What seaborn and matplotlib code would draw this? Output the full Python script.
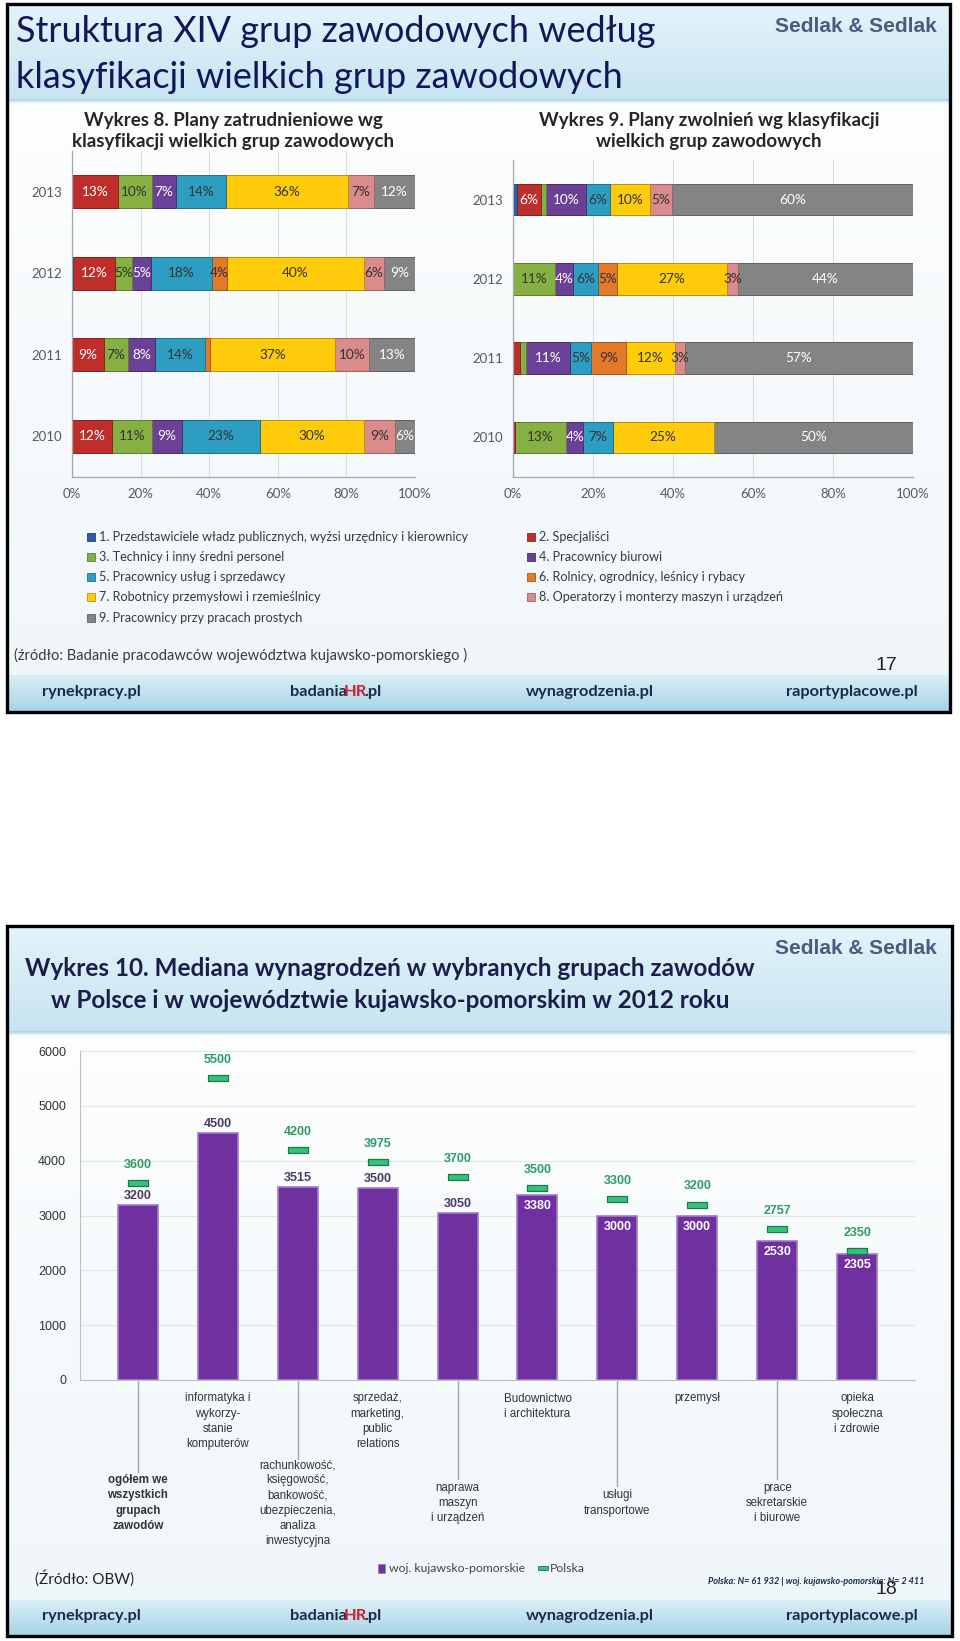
import matplotlib
matplotlib.use("Agg")
import matplotlib.pyplot as plt
import matplotlib.transforms as mtransforms
import numpy as np
import pandas as pd
import seaborn as sns
from matplotlib import font_manager
from matplotlib.colors import to_rgb
from matplotlib.patches import Rectangle

sns.set_style("white")
plt.rcParams["font.family"] = ["Liberation Sans", "DejaVu Sans"]

_installed = {f.name for f in font_manager.fontManager.ttflist}
HUMAN = "Lato" if "Lato" in _installed else "DejaVu Sans"
ARIAL = "Liberation Sans"

W, H = 960, 1641

# --- Wykres 8 / 9: structure of hiring and layoff plans (percent per group) ---
YEARS = ["2013", "2012", "2011", "2010"]
GROUPS = [
    "1. Przedstawiciele władz publicznych, wyżsi urzędnicy i kierownicy",
    "2. Specjaliści",
    "3. Technicy i inny średni personel",
    "4. Pracownicy biurowi",
    "5. Pracownicy usług i sprzedawcy",
    "6. Rolnicy, ogrodnicy, leśnicy i rybacy",
    "7. Robotnicy przemysłowi i rzemieślnicy",
    "8. Operatorzy i monterzy maszyn i urządzeń",
    "9. Pracownicy przy pracach prostych",
]
HIRE_2013 = [0.0, 13.4, 9.8, 7.2, 14.4, 0.0, 35.8, 7.4, 12.0]
HIRE_2012 = [0.4, 12.0, 5.2, 5.4, 17.8, 4.4, 39.8, 6.1, 8.9]
HIRE_2011 = [0.0, 9.4, 6.8, 8.1, 14.4, 1.5, 36.6, 9.8, 13.4]
HIRE_2010 = [0.0, 11.8, 11.4, 8.8, 22.9, 0.0, 30.3, 9.0, 5.8]

FIRE_2013 = [1.0, 6.0, 1.3, 10.0, 6.0, 0.0, 10.0, 5.4, 60.3]
FIRE_2012 = [0.0, 0.0, 10.6, 4.4, 6.3, 4.8, 27.4, 2.8, 43.7]
FIRE_2011 = [0.0, 1.8, 1.5, 11.0, 5.2, 8.8, 12.1, 2.6, 57.0]
FIRE_2010 = [0.0, 0.4, 12.9, 4.3, 7.3, 0.0, 25.3, 0.0, 49.8]

# --- Wykres 10: median salary 2012 ---
CATEGORIES = [
    "ogółem we\nwszystkich\ngrupach\nzawodów",
    "informatyka i\nwykorzy-\nstanie\nkomputerów",
    "rachunkowość,\nksięgowość,\nbankowość,\nubezpieczenia,\nanaliza\ninwestycyjna",
    "sprzedaż,\nmarketing,\npublic\nrelations",
    "naprawa\nmaszyn\ni urządzeń",
    "Budownictwo\ni architektura",
    "usługi\ntransportowe",
    "przemysł",
    "prace\nsekretarskie\ni biurowe",
    "opieka\nspołeczna\ni zdrowie",
]
WOJ = [3200, 4500, 3515, 3500, 3050, 3380, 3000, 3000, 2530, 2305]
POLSKA = [3600, 5500, 4200, 3975, 3700, 3500, 3300, 3200, 2757, 2350]

GROUP_COLORS = ["#2B5DAB", "#BE2F2C", "#86B042", "#6B4197", "#2E9DC2",
                "#E5792A", "#FFCB0A", "#D98C8B", "#848484"]
GROUP_TEXT = ["white", "white", "#333333", "white", "#333333",
              "#333333", "#333333", "#333333", "white"]
EDGE_COLORS = [tuple(np.array(to_rgb(c)) * 0.72) for c in GROUP_COLORS]
PURPLE = "#7030A0"
GREEN = "#35C27D"
NAVY = "#14165A"

fig = plt.figure(figsize=(W / 100, H / 100), dpi=100)
bg = fig.add_axes([0, 0, 1, 1])
bg.set_xlim(0, W)
bg.set_ylim(H, 0)
bg.set_autoscale_on(False)
bg.axis("off")


def px_axes(x0, y0, x1, y1):
    ax = fig.add_axes([x0 / W, 1 - y1 / H, (x1 - x0) / W, (y1 - y0) / H])
    ax.set_facecolor("none")
    return ax


def vgrad(x0, y0, x1, y1, c_top, c_bot, z=0):
    top = np.array(to_rgb(c_top))
    bot = np.array(to_rgb(c_bot))
    t = np.linspace(0, 1, 64)[:, None, None]
    img = top * (1 - t) + bot * t
    bg.imshow(img, extent=(x0, x1, y1, y0), aspect="auto",
              interpolation="bilinear", zorder=z)


def slide_frame(x0, y0, x1, y1, header_bottom, footer_top):
    vgrad(x0, y0, x1, y1, "#FFFFFF", "#EFF6FA")
    vgrad(x0, y0, x1, header_bottom, "#E4F3FA", "#C7E5F1", z=1)
    vgrad(x0, header_bottom, x1, header_bottom + 5, "#A9D1E2", "#FFFFFF", z=1)
    vgrad(x0, footer_top, x1, y1, "#D9EFF7", "#A6D3E5", z=1)
    bg.add_patch(Rectangle((x0, y0), x1 - x0, y1 - y0, fill=False,
                           edgecolor="black", lw=2.4, zorder=5))


def footer(y):
    kw = dict(fontsize=11.8, fontweight="bold", color="#1B2A4A", family=HUMAN,
              va="center", zorder=6)
    bg.text(42, y, "rynekpracy.pl", ha="left", **kw)
    t1 = bg.text(290, y, "badania", ha="left", **kw)
    t2 = bg.annotate("HR", xy=(1, 0), xycoords=t1, xytext=(-2, 0),
                     textcoords="offset points", ha="left", va="bottom",
                     fontsize=11.8, fontweight="bold", color="#D0202A",
                     family=HUMAN, zorder=6)
    bg.annotate(".pl", xy=(1, 0), xycoords=t2, xytext=(-2, 0),
                textcoords="offset points", ha="left", va="bottom",
                fontsize=11.8, fontweight="bold", color="#1B2A4A",
                family=HUMAN, zorder=6)
    bg.text(590, y, "wynagrodzenia.pl", ha="center", **kw)
    bg.text(918, y, "raportyplacowe.pl", ha="right", **kw)


def sedlak(x_right, y):
    bg.text(x_right, y, "Sedlak & Sedlak", ha="right", va="center",
            fontsize=15, fontweight="bold", color="#4A5B7E", family=ARIAL,
            zorder=6)


def stacked_panel(ax, rows):
    vals = np.array(rows, dtype=float)
    cum = vals.cumsum(axis=1)
    # overlay cumulative bars, longest first
    for k in range(len(GROUPS) - 1, -1, -1):
        sns.barplot(x=cum[:, k], y=YEARS, order=YEARS, orient="h",
                    color=GROUP_COLORS[k], saturation=1, width=0.4,
                    edgecolor=EDGE_COLORS[k], linewidth=0.7, errorbar=None,
                    ax=ax)
    for i in range(len(YEARS)):
        for k in range(len(GROUPS)):
            v = vals[i, k]
            if v >= 2.5:
                ax.text(cum[i, k] - v / 2, i, f"{v:.0f}%", ha="center",
                        va="center", fontsize=9.8, color=GROUP_TEXT[k],
                        family=HUMAN, zorder=5)
    ax.set_xlim(0, 100)
    ax.set_ylim(len(YEARS) - 0.5, -0.5)
    ax.set_xticks(np.arange(0, 101, 20))
    ax.set_xticklabels([f"{t}%" for t in range(0, 101, 20)])
    ax.set_yticks(np.arange(-0.5, len(YEARS), 1.0), minor=True)
    ax.tick_params(axis="y", which="major", length=0, pad=7,
                   labelsize=9.5, labelcolor="#595959")
    ax.tick_params(axis="y", which="minor", length=5, color="#A6A6A6",
                   direction="out")
    ax.tick_params(axis="x", length=4, color="#A6A6A6", pad=4,
                   labelsize=9.5, labelcolor="#595959")
    for lab in ax.get_xticklabels() + ax.get_yticklabels():
        lab.set_family(HUMAN)
    ax.grid(axis="x", color="#DCDCDC", lw=0.8)
    ax.set_axisbelow(True)
    ax.set_xlabel("")
    ax.set_ylabel("")
    sns.despine(ax=ax)
    for side in ("left", "bottom"):
        ax.spines[side].set_color("#A6A6A6")
        ax.spines[side].set_linewidth(0.9)


# ================= slide 17 =================
slide_frame(7, 4, 950, 712, 99, 675)
bg.text(16, 31, "Struktura XIV grup zawodowych według", fontsize=25.9,
        color=NAVY, family=HUMAN, va="center", zorder=6)
bg.text(16, 78, "klasyfikacji wielkich grup zawodowych", fontsize=25.9,
        color=NAVY, family=HUMAN, va="center", zorder=6)
sedlak(937, 26)

bg.text(233, 131, "Wykres 8. Plany zatrudnieniowe wg\nklasyfikacji wielkich grup zawodowych",
        ha="center", va="center", fontsize=13.5, fontweight="bold",
        family=HUMAN, linespacing=1.3, zorder=6)
bg.text(709, 131, "Wykres 9. Plany zwolnień wg klasyfikacji\nwielkich grup zawodowych",
        ha="center", va="center", fontsize=13.5, fontweight="bold",
        family=HUMAN, linespacing=1.3, zorder=6)

ax8 = px_axes(72, 151, 415, 477)
stacked_panel(ax8, [HIRE_2013, HIRE_2012, HIRE_2011, HIRE_2010])
ax9 = px_axes(513, 160, 913, 477)
stacked_panel(ax9, [FIRE_2013, FIRE_2012, FIRE_2011, FIRE_2010])

# legend, two columns
legend_rows = [537, 557, 577, 597, 618]
left_items = [0, 2, 4, 6, 8]
right_items = [1, 3, 5, 7]
for col_x, items in ((91, left_items), (531, right_items)):
    for row_y, k in zip(legend_rows, items):
        bg.add_patch(Rectangle((col_x - 4, row_y - 4), 8, 8,
                               facecolor=GROUP_COLORS[k],
                               edgecolor=EDGE_COLORS[k], lw=0.6, zorder=6))
        bg.text(col_x + 8, row_y, GROUPS[k], ha="left", va="center",
                fontsize=9.1, color="#3A3A3A", family=HUMAN, zorder=6)

bg.text(14, 655, "(źródło: Badanie pracodawców województwa kujawsko-pomorskiego )",
        ha="left", va="center", fontsize=10.5, color="#3A3A3A", family=HUMAN,
        zorder=6)
bg.text(886, 666, "17", ha="center", va="center", fontsize=14,
        color="#222222", family=ARIAL, zorder=6)
footer(692)

# ================= slide 18 =================
slide_frame(7, 926, 952, 1636, 1031, 1600)
bg.text(390, 968, "Wykres 10. Mediana wynagrodzeń w wybranych grupach zawodów",
        ha="center", va="center", fontsize=17.5, fontweight="bold",
        color="#1C1D4A", family=HUMAN, zorder=6)
bg.text(390, 1001, "w Polsce i w województwie kujawsko-pomorskim w 2012 roku",
        ha="center", va="center", fontsize=17.5, fontweight="bold",
        color="#1C1D4A", family=HUMAN, zorder=6)
sedlak(937, 948)

ax10 = px_axes(80, 1051, 915, 1380)
df10 = pd.DataFrame({"kategoria": CATEGORIES, "woj": WOJ, "polska": POLSKA})
sns.barplot(data=df10, x="kategoria", y="woj", color=PURPLE, saturation=1,
            width=0.5, edgecolor="#A07CC8", linewidth=1.2, errorbar=None,
            ax=ax10)
dash = [(-4, -1), (4, -1), (4, 1), (-4, 1), (-4, -1)]
sns.scatterplot(x=np.arange(len(CATEGORIES)), y=df10["polska"], marker=dash,
                s=210, color=GREEN, edgecolor="#1D7A47", linewidth=0.9,
                zorder=4, ax=ax10, legend=False)

for i, (w, p) in enumerate(zip(WOJ, POLSKA)):
    ax10.annotate(f"{p}", xy=(i, p), xytext=(0, 13), textcoords="offset points",
                  ha="center", va="center", fontsize=9, fontweight="bold",
                  color="#2E9A68", family=ARIAL)
    if i < 5:
        ax10.annotate(f"{w}", xy=(i, w), xytext=(0, 2), textcoords="offset points",
                      ha="center", va="bottom", fontsize=9, fontweight="bold",
                      color="#4A3B60", family=ARIAL)
    else:
        ax10.annotate(f"{w}", xy=(i, w), xytext=(0, -8), textcoords="offset points",
                      ha="center", va="center", fontsize=9, fontweight="bold",
                      color="white", family=ARIAL)

ax10.set_ylim(0, 6000)
ax10.set_yticks(np.arange(0, 6001, 1000))
ax10.tick_params(axis="y", length=4, color="#BFBFBF", pad=6, labelsize=9,
                 labelcolor="#333333")
ax10.tick_params(axis="x", length=0, labelbottom=False)
ax10.grid(axis="y", color="#E4E4E4", lw=0.8)
ax10.set_axisbelow(True)
ax10.set_xlabel("")
ax10.set_ylabel("")
sns.despine(ax=ax10)
for side in ("left", "bottom"):
    ax10.spines[side].set_color("#BFBFBF")

# category labels, alternating high / low with leader lines
ax_h = 1380 - 1051
line_px = 13.8
trans = mtransforms.blended_transform_factory(ax10.transData, ax10.transAxes)
for i, lab in enumerate(CATEGORIES):
    weight = "bold" if i == 0 else "normal"
    if i % 2 == 1:
        ax10.annotate(lab, xy=(i, 0), xycoords=("data", "axes fraction"),
                      xytext=(0, -9), textcoords="offset points", ha="center",
                      va="top", fontsize=8.3, linespacing=1.35,
                      color="#333333", fontweight=weight, family=ARIAL)
    else:
        n_lines = lab.count("\n") + 1
        center = 123
        ax10.annotate(lab, xy=(i, 0), xycoords=("data", "axes fraction"),
                      xytext=(0, -center * 0.72), textcoords="offset points",
                      ha="center", va="center", fontsize=8.3, linespacing=1.35,
                      color="#333333", fontweight=weight, family=ARIAL)
        end = center - n_lines * line_px / 2 - 3
        ax10.plot([i, i], [0, -end / ax_h], transform=trans, color="#A6A6A6",
                  lw=1.0, clip_on=False)

# legend for Wykres 10
bg.add_patch(Rectangle((378, 1564), 7, 9, facecolor=PURPLE,
                       edgecolor="#A07CC8", lw=0.6, zorder=6))
bg.text(389, 1568, "woj. kujawsko-pomorskie", ha="left", va="center",
        fontsize=8.8, color="#444444", family=HUMAN, zorder=6)
bg.add_patch(Rectangle((538, 1566), 10, 4, facecolor=GREEN,
                       edgecolor="#1D7A47", lw=0.6, zorder=6))
bg.text(550, 1568, "Polska", ha="left", va="center", fontsize=8.8,
        color="#444444", family=HUMAN, zorder=6)

bg.text(35, 1578, "(Źródło: OBW)", ha="left", va="center", fontsize=11,
        color="#222222", family=HUMAN, zorder=6)
bg.text(924, 1581, "Polska: N= 61 932 | woj. kujawsko-pomorskie: N= 2 411",
        ha="right", va="center", fontsize=6.6, fontweight="bold",
        fontstyle="italic", color="#1B2A4A", family=HUMAN, zorder=6)
bg.text(886, 1590, "18", ha="center", va="center", fontsize=14,
        color="#222222", family=ARIAL, zorder=7)
footer(1616)

fig.savefig("out.png", dpi=100)
